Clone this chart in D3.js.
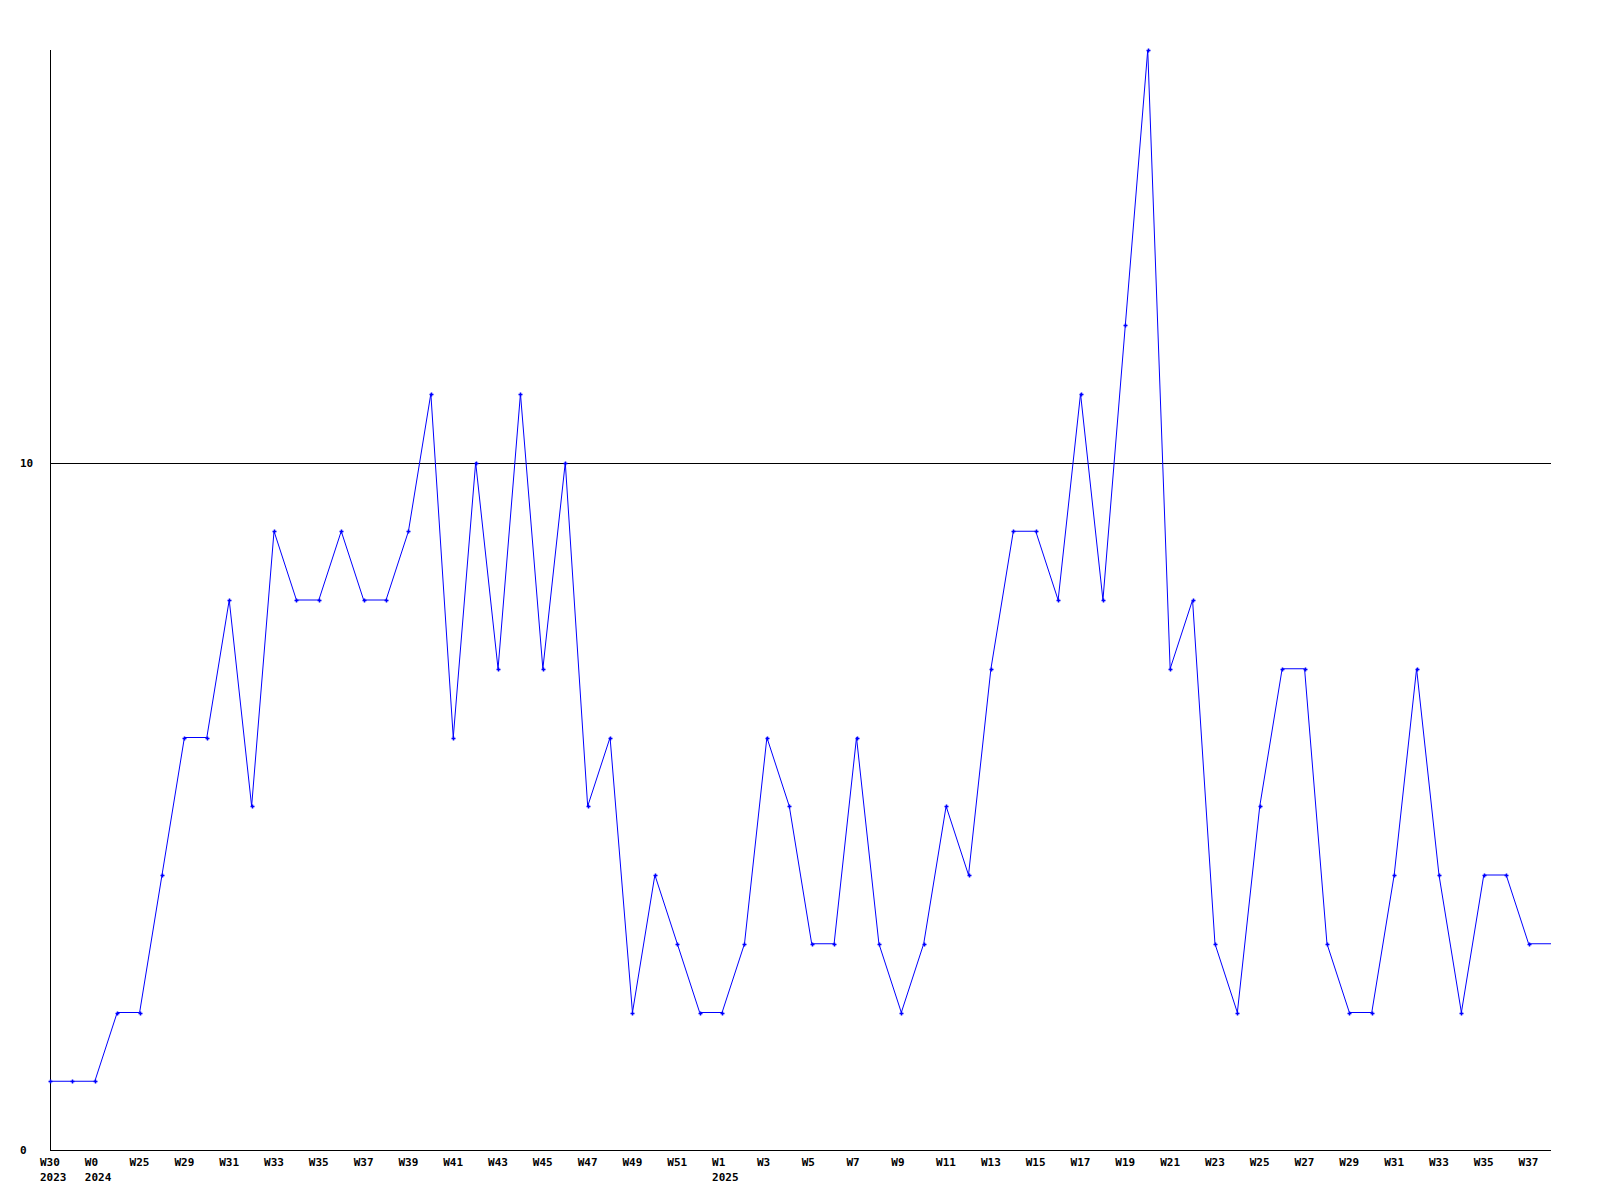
<!DOCTYPE html>
<html><head><meta charset="utf-8">
<script src="https://cdn.jsdelivr.net/npm/d3@7"></script>
<style>body{margin:0;background:#fff}svg{display:block}text{font-family:"DejaVu Sans Mono",monospace;font-weight:bold;font-size:11px;fill:#000}</style>
</head><body>
<script>
const categories = ["W30 2023","W31","W0 2024","W24","W25","W27","W29","W30","W31","W32","W33","W34","W35","W36","W37","W38","W39","W40","W41","W42","W43","W44","W45","W46","W47","W48","W49","W50","W51","W52","W1 2025","W2","W3","W4","W5","W6","W7","W8","W9","W10","W11","W12","W13","W14","W15","W16","W17","W18","W19","W20","W21","W22","W23","W24","W25","W26","W27","W28","W29","W30","W31","W32","W33","W34","W35","W36","W37","W38"];
const values = [1,1,1,2,2,4,6,6,8,5,9,8,8,9,8,8,9,11,6,10,7,11,7,10,5,6,2,4,3,2,2,3,6,5,3,3,6,3,2,3,5,4,7,9,9,8,11,8,12,16,7,8,3,2,5,7,7,3,2,2,4,7,4,2,4,4,3,3];
const yTicks = [0,10];
const W = 1600, H = 1200;
const mLeft = 50, mRight = 1551, mTop = 50, mBottom = 1150;

const svg = d3.select("body").append("svg").attr("width", W).attr("height", H);
const x = d3.scalePoint().domain(d3.range(categories.length)).range([mLeft, mRight]);
const y = d3.scaleLinear().domain([0,16]).range([mBottom, mTop]);

// gridline at 10
svg.append("g").selectAll("line").data(yTicks.filter(d=>d>0)).join("line")
  .attr("x1", mLeft).attr("x2", mRight).attr("y1", d=>Math.round(y(d))+0.5).attr("y2", d=>Math.round(y(d))+0.5)
  .attr("stroke","#000").attr("stroke-width",1);

// axes lines
svg.append("line").attr("x1",mLeft+0.5).attr("x2",mLeft+0.5).attr("y1",mTop).attr("y2",mBottom).attr("stroke","#000");
svg.append("line").attr("x1",mLeft).attr("x2",mRight).attr("y1",mBottom+0.5).attr("y2",mBottom+0.5).attr("stroke","#000");

// y labels
svg.append("g").selectAll("text").data(yTicks).join("text")
  .attr("x", 20).attr("y", d=>y(d)+4).text(d=>d);

// x labels
const lab = svg.append("g").selectAll("g").data(categories.map((c,i)=>({c,i})).filter(d=>d.i%2===0 && d.i<67)).join("g");
lab.append("text").attr("x", d=>x(d.i)-10).attr("y", mBottom+16).text(d=>d.c.split(" ")[0]);
lab.filter(d=>d.c.includes(" ")).append("text").attr("x", d=>x(d.i)-10).attr("y", mBottom+31).text(d=>d.c.split(" ")[1]);

// line
const line = d3.line().x((d,i)=>x(i)).y(d=>y(d));
svg.append("path").datum(values).attr("d", line).attr("fill","none").attr("stroke","#0000ff").attr("stroke-width",1);

// markers
svg.append("g").selectAll("path").data(values.slice(0,67)).join("path")
  .attr("d", (d,i)=>{const cx=Math.round(x(i))+0.5, cy=Math.round(y(d))+0.5; return `M${cx-2},${cy}H${cx+2}M${cx},${cy-2}V${cy+2}`;})
  .attr("stroke","#0000ff").attr("stroke-width",1.5).attr("fill","none");
</script>
</body></html>
